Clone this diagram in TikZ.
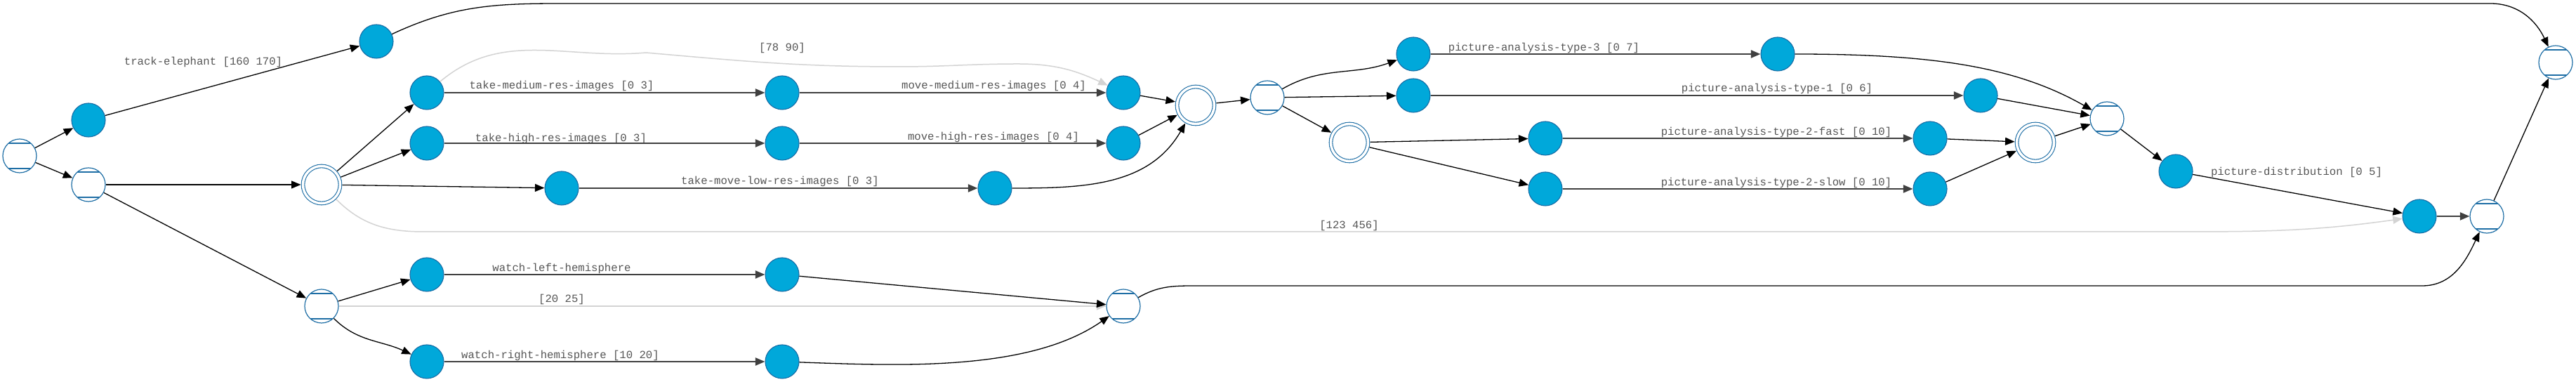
\documentclass[tikz,border=0pt]{standalone}
\usepackage{fontspec}
\setmonofont{Liberation Mono}
\usetikzlibrary{arrows.meta}
\definecolor{actfill}{RGB}{0,168,218}
\definecolor{actline}{RGB}{22,108,165}
\definecolor{gateblue}{RGB}{30,110,165}
\definecolor{lblgray}{RGB}{85,85,85}
\definecolor{waitgray}{RGB}{211,211,211}

\begin{document}
\begin{tikzpicture}[x=0.2cm, y=0.2cm]
		\tikzset{act/.style={circle, draw=actline, fill=actfill, line width=0.022cm, minimum size=0.96cm, inner sep=0pt}};
		\tikzset{choice/.style={circle, draw=gateblue, fill=white, line width=0.024cm, minimum size=0.96cm, inner sep=0pt,
			path picture={\draw[gateblue, line width=0.034cm]
				([yshift=-0.12cm]path picture bounding box.north west) -- ([yshift=-0.12cm]path picture bounding box.north east)
				([yshift=0.12cm]path picture bounding box.south west) -- ([yshift=0.12cm]path picture bounding box.south east);}}};
		\tikzset{fork/.style={circle, draw=gateblue, double, double distance=0.07cm, line width=0.022cm, minimum size=1.06cm, inner sep=0pt, outer sep=0.06cm}};
		\tikzset{lbl/.style={font=\ttfamily\fontsize{8.9}{10}\selectfont, text=lblgray, inner sep=0pt}};
		\tikzset{>={Triangle[length=0.27cm, width=0.22cm]}};
		\tikzset{flow/.style={->, line width=0.026cm}, busy/.style={->, draw=black!75, line width=0.04cm}, wait/.style={->, draw=waitgray, line width=0.03cm}};

		\useasboundingbox (0,0) rectangle (366.9,54.4);

		\node[choice] (s0) at (2.8, 32.2) {};
		\node[act] (a1) at (12.6, 37.3) {};
		\node[choice] (s1) at (12.6, 28.1) {};
		\node[act] (a2) at (53.6, 48.5) {};
		\node[fork] (p1) at (45.8, 28.1) {};
		\node[choice] (s2) at (45.8, 10.8) {};

		\node[act] (m1) at (60.8, 41.2) {};
		\node[act] (h1) at (60.8, 34.0) {};
		\node[act] (l1) at (80.0, 27.6) {};
		\node[act] (w1) at (60.8, 15.3) {};
		\node[act] (r1) at (60.8, 2.9) {};
		\node[act] (m2) at (111.4, 41.2) {};
		\node[act] (h2) at (111.4, 34.0) {};
		\node[act] (w2) at (111.4, 15.3) {};
		\node[act] (r2) at (111.4, 2.9) {};
		\node[act] (m3) at (160.0, 41.2) {};
		\node[act] (h3) at (160.0, 34.0) {};
		\node[act] (l2) at (141.7, 27.6) {};
		\node[fork] (p2) at (170.3, 39.4) {};
		\node[choice] (s3) at (180.5, 40.5) {};
		\node[choice] (s4) at (160.0, 10.8) {};

		\node[act] (pa3) at (201.3, 46.7) {};
		\node[act] (pa1) at (201.3, 40.8) {};
		\node[fork] (p3) at (192.2, 34.1) {};
		\node[act] (pf) at (220.1, 34.7) {};
		\node[act] (ps) at (220.1, 27.5) {};
		\node[act] (pa3t) at (253.2, 46.7) {};
		\node[act] (pa1t) at (282.1, 40.8) {};
		\node[act] (pft) at (274.9, 34.7) {};
		\node[act] (pst) at (274.9, 27.5) {};
		\node[fork] (p4) at (289.9, 34.1) {};
		\node[choice] (s5) at (300.1, 37.5) {};
		\node[act] (d1) at (309.9, 30.0) {};
		\node[act] (d2) at (344.6, 23.6) {};
		\node[choice] (s6) at (354.2, 23.6) {};
		\node[choice] (s7) at (364.0, 45.5) {};

		\node[lbl] (lte) at (28.95, 45.55) {track-elephant [160 170]};
		\node[lbl] (ltm) at (80.0, 42.13) {take-medium-res-images [0 3]};
		\node[lbl] (lth) at (79.9, 34.7) {take-high-res-images [0 3]};
		\node[lbl] (ltl) at (111.1, 28.55) {take-move-low-res-images [0 3]};
		\node[lbl] (lmm) at (141.55, 42.15) {move-medium-res-images [0 4]};
		\node[lbl] (lmh) at (141.5, 34.9) {move-high-res-images [0 4]};
		\node[lbl] (lmw) at (111.4, 47.56) {[78 90]};
		\node[lbl] (lwl) at (80.0, 16.2) {watch-left-hemisphere};
		\node[lbl] (lww) at (80.0, 11.8) {[20 25]};
		\node[lbl] (lwr) at (79.8, 3.8) {watch-right-hemisphere [10 20]};
		\node[lbl] (lp3) at (219.9, 47.56) {picture-analysis-type-3 [0 7]};
		\node[lbl] (lp1) at (253.1, 41.74) {picture-analysis-type-1 [0 6]};
		\node[lbl] (lpf) at (253.0, 35.56) {picture-analysis-type-2-fast [0 10]};
		\node[lbl] (lps) at (253.0, 28.4) {picture-analysis-type-2-slow [0 10]};
		\node[lbl] (lpw) at (192.15, 22.3) {[123 456]};
		\node[lbl] (lpd) at (327.1, 29.9) {picture-distribution [0 5]};

		\draw[wait] (m1) to[out=40, in=185] (92, 46.9) to[out=-5, in=180] (128, 44.9) to[out=0, in=180] (145, 45.3) to[out=0, in=155] (m3);
		\draw[wait] (s2) to (s4);
		\draw[wait] (p1) to[out=-45, in=180] (60.4, 21.4) -- (311.3, 21.4) to[out=0, in=188] (d2);

		\draw[flow] (s0) to (a1);
		\draw[flow] (s0) to (s1);

		\draw[flow] (a1) to (a2);
		\draw[flow] (a2) to[out=25, in=180] (80, 53.9) -- (354.7, 53.9) to[out=0, in=115] (s7);

		\draw[flow] (s1) to (p1);
		\draw[flow] (s1) to (s2);

		\draw[flow] (p1) to (m1);
		\draw[flow] (p1) to (h1);
		\draw[flow] (p1) to (l1);

		\draw[busy] (m1) to (m2);
		\draw[busy] (m2) to (m3);
		\draw[busy] (h1) to (h2);
		\draw[busy] (h2) to (h3);
		\draw[busy] (l1) to (l2);

		\draw[flow] (m3) to (p2);
		\draw[flow] (h3) to (p2);
		\draw[flow] (l2) to[out=0, in=240] (p2);
		\draw[flow] (p2) to (s3);

		\draw[flow] (s2) to (w1);
		\draw[flow] (s2) to[out=-45, in=155] (r1);
		\draw[busy] (w1) to (w2);
		\draw[busy] (r1) to (r2);
		\draw[flow] (w2) to (s4);
		\draw[flow] (r2) to[out=-2, in=215, looseness=0.8] (s4);
		\draw[flow] (s4) to[out=30, in=180] (170, 13.7) -- (345, 13.7) to[out=0, in=245] (s6);

		\draw[flow] (s3) to[out=30, in=200] (pa3);
		\draw[flow] (s3) to (pa1);
		\draw[flow] (s3) to (p3);

		\draw[busy] (pa3) to (pa3t);
		\draw[busy] (pa1) to (pa1t);
		\draw[flow] (p3) to (pf);
		\draw[flow] (p3) to (ps);
		\draw[busy] (pf) to (pft);
		\draw[busy] (ps) to (pst);

		\draw[flow] (pa3t) .. controls (275, 46.7) and (287, 45) .. (s5);
		\draw[flow] (pa1t) to (s5);
		\draw[flow] (pft) to (p4);
		\draw[flow] (pst) to (p4);
		\draw[flow] (p4) to (s5);

		\draw[flow] (s5) to (d1);
		\draw[flow] (d1) to (d2);
		\draw[busy] (d2) to (s6);
		\draw[flow] (s6) to (s7);

	\end{tikzpicture}
\end{document}
